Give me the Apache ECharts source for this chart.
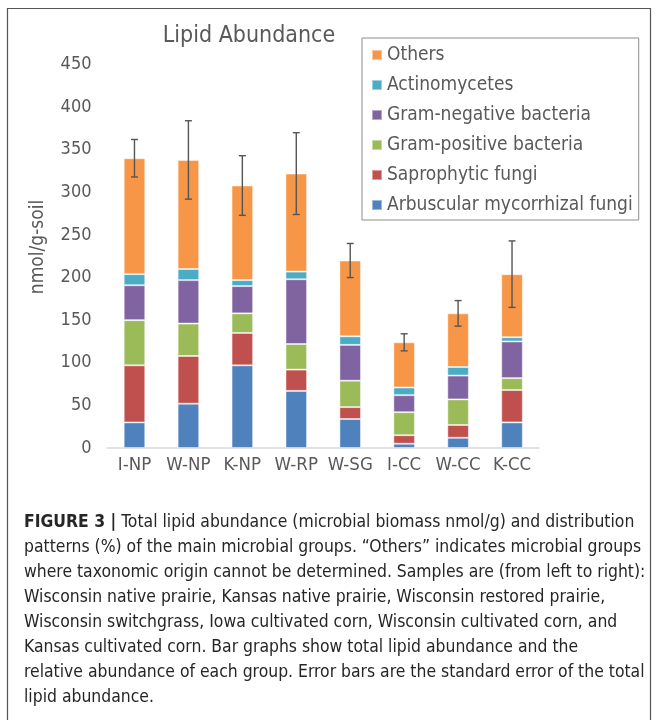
<!DOCTYPE html>
<html>
<head>
<meta charset="utf-8">
<script src="https://cdn.jsdelivr.net/npm/echarts@6/dist/echarts.min.js"></script>
<style>
html,body{margin:0;padding:0;background:#fff;}
#chart{width:657px;height:720px;}
</style>
</head>
<body>
<div id="chart"></div>
<script>
// ---- data ----
var categories = ['I-NP', 'W-NP', 'K-NP', 'W-RP', 'W-SG', 'I-CC', 'W-CC', 'K-CC'];
var arbuscular = [30, 52, 97, 67, 34, 5, 12, 30];
var saprophytic = [67, 56, 38, 25, 14, 10, 15, 38];
var gramPositive = [53, 38, 23, 30, 31, 27, 30, 14];
var gramNegative = [41, 51, 32, 76, 42, 20, 28, 43];
var actinomycetes = [13, 13, 7, 9, 10, 9, 10, 5];
var others = [136, 128, 111, 115, 89, 53, 63, 74];
var stdErrors = [22, 46, 35, 48, 20, 10, 15, 39];
var yTicks = [0, 50, 100, 150, 200, 250, 300, 350, 400, 450];
var captionLines = [
  '{b|FIGURE 3 |} Total lipid abundance (microbial biomass nmol/g) and distribution',
  'patterns (%) of the main microbial groups. \u201cOthers\u201d indicates microbial groups',
  'where taxonomic origin cannot be determined. Samples are (from left to right):',
  'Wisconsin native prairie, Kansas native prairie, Wisconsin restored prairie,',
  'Wisconsin switchgrass, Iowa cultivated corn, Wisconsin cultivated corn, and',
  'Kansas cultivated corn. Bar graphs show total lipid abundance and the',
  'relative abundance of each group. Error bars are the standard error of the total',
  'lipid abundance.'
];

var FONT = '"DejaVu Sans Condensed", "Liberation Sans", Arial, sans-serif';
var seriesDefs = [
  {name: 'Arbuscular mycorrhizal fungi', data: arbuscular, color: '#4F81BD'},
  {name: 'Saprophytic fungi', data: saprophytic, color: '#C0504D'},
  {name: 'Gram-positive bacteria', data: gramPositive, color: '#9BBB59'},
  {name: 'Gram-negative bacteria', data: gramNegative, color: '#8064A2'},
  {name: 'Actinomycetes', data: actinomycetes, color: '#4BACC6'},
  {name: 'Others', data: others, color: '#F79646'}
];

var totals = categories.map(function (c, i) {
  return seriesDefs.reduce(function (s, d) { return s + d.data[i]; }, 0);
});
var errData = categories.map(function (c, i) {
  return [i, totals[i] - stdErrors[i], totals[i] + stdErrors[i]];
});

var series = seriesDefs.map(function (d) {
  return {
    name: d.name,
    type: 'bar',
    stack: 'total',
    barWidth: '40%',
    data: d.data,
    itemStyle: {color: d.color, borderColor: 'rgba(255,255,255,0.45)', borderWidth: 1},
    emphasis: {disabled: true}
  };
});
series.push({
  type: 'custom',
  name: 'err',
  data: errData,
  z: 10,
  renderItem: function (params, api) {
    var x = api.value(0);
    var lo = api.coord([x, api.value(1)]);
    var hi = api.coord([x, api.value(2)]);
    var hw = 3.5;
    var st = {stroke: '#555555', lineWidth: 1.4, fill: null};
    return {
      type: 'group',
      children: [
        {type: 'line', shape: {x1: hi[0], y1: hi[1], x2: lo[0], y2: lo[1]}, style: st},
        {type: 'line', shape: {x1: hi[0] - hw, y1: hi[1], x2: hi[0] + hw, y2: hi[1]}, style: st},
        {type: 'line', shape: {x1: lo[0] - hw, y1: lo[1], x2: lo[0] + hw, y2: lo[1]}, style: st}
      ]
    };
  }
});

var graphics = [
  {type: 'rect', shape: {x: 7.5, y: 8.5, width: 643, height: 730}, style: {fill: null, stroke: '#555555', lineWidth: 1.2}, z: -1},
  {type: 'text', x: 38.5, y: 247, rotation: Math.PI / 2,
   style: {text: 'nmol/g-soil', font: '19px ' + FONT, fill: '#595959', align: 'center', verticalAlign: 'middle'}}
];
captionLines.forEach(function (line, i) {
  graphics.push({
    type: 'text',
    left: 24,
    top: 514 + i * 25,
    style: {
      text: line,
      font: '17.4px ' + FONT,
      fill: '#262626',
      rich: {
        b: {fontWeight: 'bold', fontSize: 17.4, fontFamily: FONT, fill: '#262626'}
      }
    }
  });
});

var chart = echarts.init(document.getElementById('chart'), null, {renderer: 'canvas'});
chart.setOption({
  animation: false,
  backgroundColor: '#ffffff',
  title: {
    text: 'Lipid Abundance',
    left: 244,
    textAlign: 'center',
    top: 20,
    textStyle: {fontFamily: FONT, fontSize: 23, fontWeight: 'normal', color: '#595959'}
  },
  legend: {
    orient: 'vertical',
    left: 362,
    top: 38,
    data: ['Others', 'Actinomycetes', 'Gram-negative bacteria', 'Gram-positive bacteria', 'Saprophytic fungi', 'Arbuscular mycorrhizal fungi'],
    icon: 'rect',
    itemWidth: 10,
    itemHeight: 10,
    itemGap: 10,
    padding: [7, 6, 5, 9],
    borderColor: '#8c8c8c',
    borderWidth: 1,
    textStyle: {fontFamily: FONT, fontSize: 19, color: '#595959', lineHeight: 20},
    selectedMode: false
  },
  grid: {left: 107.5, right: 118, top: 64.5, bottom: 272},
  xAxis: {
    type: 'category',
    data: categories,
    axisLine: {lineStyle: {color: '#d9d9d9', width: 1.5}},
    axisTick: {show: false},
    axisLabel: {fontFamily: FONT, fontSize: 18.5, color: '#595959', margin: 8, interval: 0}
  },
  yAxis: {
    type: 'value',
    min: yTicks[0],
    max: yTicks[yTicks.length - 1],
    interval: yTicks[1] - yTicks[0],
    axisLine: {show: false},
    axisTick: {show: false},
    splitLine: {show: false},
    axisLabel: {fontFamily: FONT, fontSize: 18, color: '#595959', margin: 16}
  },
  series: series,
  graphic: graphics
});
</script>
</body>
</html>
